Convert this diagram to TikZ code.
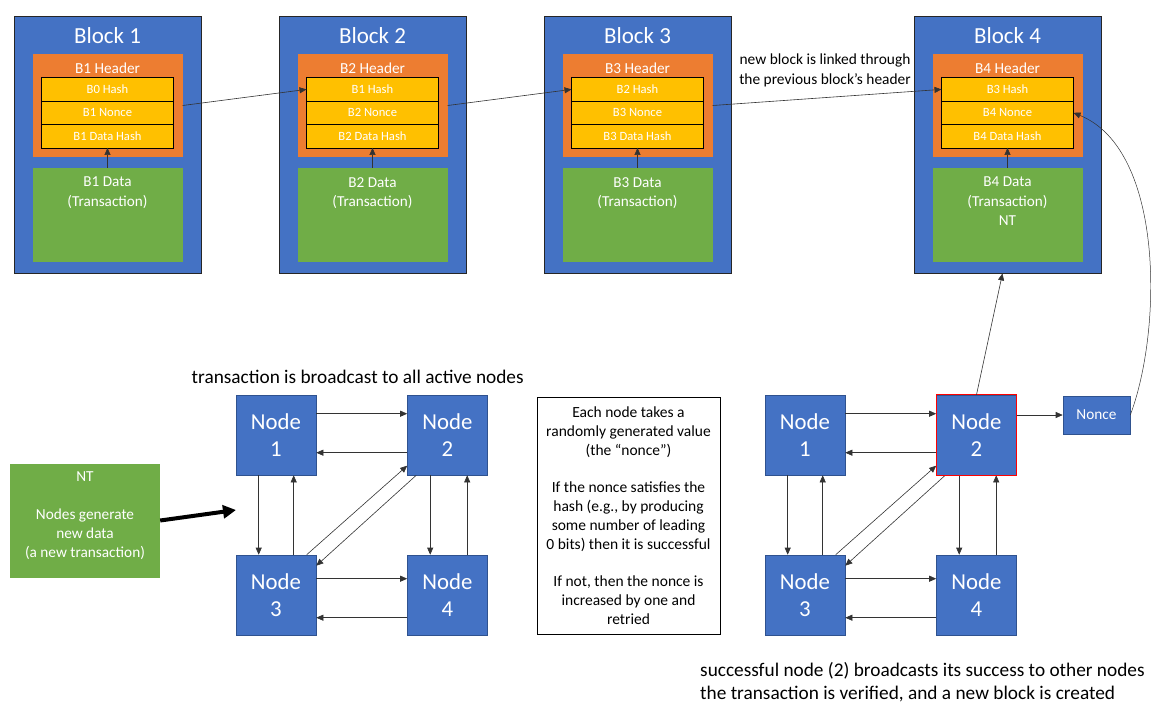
\documentclass[tikz,border=0pt]{standalone}
\usepackage{fontspec}
\setmainfont{Carlito}
\usetikzlibrary{arrows.meta, positioning}

\definecolor{blkblue}{HTML}{4472C4}
\definecolor{hdrorange}{HTML}{ED7D31}
\definecolor{rowyellow}{HTML}{FFC000}
\definecolor{datagreen}{HTML}{70AD47}
\definecolor{edgeblue}{HTML}{2F528F}
\newcommand{\fsz}[2]{\fontsize{#1}{#2}\selectfont}

\begin{document}
\begin{tikzpicture}[
  x=1pt, y=-1pt, % one unit is one pixel of the 1151x704 layout, y runs down
  block/.style={draw=black!85, line width=0.8pt, fill=blkblue, minimum width=187pt, minimum height=257pt, inner sep=0pt},
  header/.style={fill=hdrorange, minimum width=150pt, minimum height=103pt, inner sep=0pt},
  hashrow/.style={draw=black, line width=0.8pt, fill=rowyellow, minimum width=132pt, minimum height=23.4pt, inner sep=0pt, outer sep=0pt, text=white, font=\fsz{12.6}{15}},
  datafield/.style={fill=datagreen, minimum width=150pt, minimum height=94pt, inner sep=0pt},
  whitetext/.style={text=white, inner sep=0pt, align=center},
  peer/.style={draw=edgeblue, line width=0.6pt, fill=blkblue, minimum width=80pt, minimum height=80pt, text=white, align=center, font=\fsz{22.8}{27.3}},
  link/.style={draw=black!80, line width=0.6pt, -{Triangle[length=7pt,width=6pt]}}]

  \useasboundingbox (0,0) rectangle (1151,704);

  % the chain of blocks
  \foreach \i/\x/\prev/\more in {1/14/0/{}, 2/279/1/{}, 3/544/2/{}, 4/914/3/{\\NT}} {
    \node[block] (blk\i) at (\x+93.5,144.5) {};
    \node[whitetext, font=\fsz{23}{28}] (ttl\i) at (\x+93.5,36) {Block \i};
    \node[header] (hdr\i) at (\x+93.5,105.5) {};
    \node[whitetext, font=\fsz{15.3}{18}] (hlbl\i) at (\x+93.5,68) {B\i{} Header};
    \node[hashrow] (hash\i) at (\x+93.5,89.4) {B\prev{} Hash};
    \node[hashrow, below=0pt of hash\i] (nonce\i) {B\i{} Nonce};
    \node[hashrow, below=0pt of nonce\i] (dhash\i) {B\i{} Data Hash};
    \node[datafield] (data\i) at (\x+93.5,215) {};
    \node[whitetext, font=\fsz{15.2}{19.5}, anchor=north] (dtxt\i) at (\x+93.5,177) {B\i{} Data\\(Transaction)\more};
    \draw[link] (data\i.north) -- (dhash\i.south);
  }
  \foreach \a/\b in {1/2, 2/3, 3/4}
    \draw[link] (hdr\a.east) -- (hash\b.west);

  \node[align=center, inner sep=0pt, font=\fsz{15.4}{20}] (linknote) at (825,70.7) {new block is linked through\\the previous block's header};

  % new data enters the network
  \node[datafield, minimum height=114pt] (ntbox) at (85,520.5) {};
  \node[whitetext, font=\fsz{15.3}{19}] (nttxt) at (85,515.5) {NT\\[19pt]Nodes generate\\new data\\(a new transaction)};
  \coordinate (bcastin) at (236,510);
  \draw[line width=4pt, -{Triangle[length=13pt,width=13pt]}] (ntbox.east) -- (bcastin);

  \node[anchor=base west, inner sep=0pt, font=\fsz{19.3}{23}] (bcast) at (191.5,383) {transaction is broadcast to all active nodes};

  % two copies of the peer network
  \foreach \g/\ox in {l/0, r/529} {
    \node[peer] (\g1) at (276+\ox,435) {Node\\1};
    \node[peer] (\g2) at (447.5+\ox,435) {Node\\2};
    \node[peer] (\g3) at (276+\ox,595) {Node\\3};
    \node[peer] (\g4) at (447.5+\ox,595) {Node\\4};
    \draw[link] ([yshift=-19pt]\g1.north east) -- ([yshift=-19pt]\g2.north west);
    \draw[link] ([yshift=-58pt]\g2.north west) -- ([yshift=-58pt]\g1.north east);
    \draw[link] ([yshift=-24pt]\g3.north east) -- ([yshift=-24pt]\g4.north west);
    \draw[link] ([yshift=-63pt]\g4.north west) -- ([yshift=-63pt]\g3.north east);
    \draw[link] ([xshift=23pt]\g1.south west) -- ([xshift=23pt]\g3.north west);
    \draw[link] ([xshift=58pt]\g3.north west) -- ([xshift=58pt]\g1.south west);
    \draw[link] ([xshift=23pt]\g2.south west) -- ([xshift=23pt]\g4.north west);
    \draw[link] ([xshift=60pt]\g4.north west) -- ([xshift=60pt]\g2.south west);
    \draw[link] ([xshift=71pt]\g3.north west) -- ([yshift=-71pt]\g2.north west);
    \draw[link] ([xshift=9pt]\g2.south west) -- ([yshift=-11pt]\g3.north east);
  }
  \draw[red, line width=1pt] (r2.south west) rectangle (r2.north east); % the successful node

  \node[draw=black, line width=0.8pt, minimum width=183pt, minimum height=237pt, align=center, font=\fsz{15.5}{18.8}] (howto) at (628.5,515.5) {Each node takes a\\randomly generated value\\(the “nonce”)\\[18.8pt]If the nonce satisfies the\\hash (e.g., by producing\\some number of leading\\0 bits) then it is successful\\[18.8pt]If not, then the nonce is\\increased by one and\\retried};

  \node[peer, minimum width=67pt, minimum height=38pt, font=\fsz{15.3}{18}] (noncebox) at (1096.5,415) {Nonce};
  \draw[link] (r2.east |- noncebox.west) -- (noncebox.west);
  \draw[link] (r2.north) -- ([xshift=-5pt]blk4.south);
  \draw[link, line width=0.5pt] (noncebox.east) .. controls +(32,-85) and +(91,37) .. (nonce4.east);

  \node[anchor=base west, align=left, inner sep=0pt, font=\fsz{19.3}{22.5}] (outcome) at (700,699) {successful node (2) broadcasts its success to other nodes\\the transaction is verified, and a new block is created};
\end{tikzpicture}
\end{document}
